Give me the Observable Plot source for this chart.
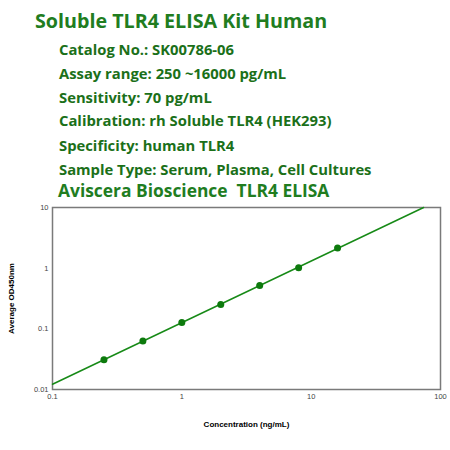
<!DOCTYPE html>
<html>
<head>
<meta charset="utf-8">
<script src="https://cdn.jsdelivr.net/npm/d3@7"></script>
<script src="https://cdn.jsdelivr.net/npm/@observablehq/plot@0.6"></script>
<style>
  html, body { margin: 0; padding: 0; background: #fff; }
  #page { position: relative; width: 450px; height: 450px; overflow: hidden; }
  #hdr { position: absolute; left: 0; top: 0; z-index: 2; }
  .hdr { position: absolute; font-family: "Open Sans", sans-serif; font-weight: 700; color: #1b7019; white-space: pre; line-height: 1; }
  #chart { position: absolute; left: 0; top: 195px; z-index: 1; }
  #chart g[aria-label="x-axis label"] text, #chart g[aria-label="y-axis label"] text { font-weight: 700; font-size: 8px; fill: #000; }
</style>
</head>
<body>
<div id="page">
  <div id="hdr"></div>
  <div id="chart"></div>
</div>
<script>
// Header texts
const title = "Soluble TLR4 ELISA Kit Human";
const infoLines = [
  "Catalog No.: SK00786-06",
  "Assay range: 250 ~16000 pg/mL",
  "Sensitivity: 70 pg/mL",
  "Calibration: rh Soluble TLR4 (HEK293)",
  "Specificity: human TLR4",
  "Sample Type: Serum, Plasma, Cell Cultures"
];
const footer = "Aviscera Bioscience  TLR4 ELISA";

// Standard curve points
const concentrations = [0.25, 0.5, 1, 2, 4, 8, 16];
const odValues = [0.031, 0.063, 0.127, 0.251, 0.52, 1.02, 2.15];

// Fitted line endpoints
const fitX = [0.1, 74];
const fitY = [0.0122, 10];

// Ticks
const xTicks = [0.1, 1, 10, 100];
const yTicks = [0.01, 0.1, 1, 10];

// Build header
const hdr = document.getElementById("hdr");
function addLine(text, left, baseline, size, color) {
  const d = document.createElement("div");
  d.className = "hdr";
  d.textContent = text;
  d.style.left = left + "px";
  d.style.fontSize = size + "px";
  d.style.top = (baseline - size * 0.82) + "px";
  if (color) d.style.color = color;
  hdr.appendChild(d);
}
addLine(title, 35, 27, 19.7, "#217d1f");
const baselines = [54, 78, 102, 125.5, 150, 174];
infoLines.forEach((t, i) => addLine(t, 59, baselines[i], 14.8));
addLine(footer, 58, 196, 17.4, "#217d1f");

const points = concentrations.map((c, i) => ({c, od: odValues[i]}));
const fit = fitX.map((x, i) => ({x, y: fitY[i]}));

const plot = Plot.plot({
  width: 450,
  height: 245,
  marginTop: 12,
  marginBottom: 51,
  marginLeft: 52,
  marginRight: 10,
  style: { fontFamily: "Liberation Sans, Arial, sans-serif", fontSize: "7.5px", color: "#444", background: "transparent" },
  x: { type: "log", domain: [0.1, 100], ticks: xTicks, tickFormat: d => String(d), tickSize: 0, tickPadding: 4,
       label: "Concentration (ng/mL)", labelAnchor: "center", labelArrow: "none", labelOffset: 37 },
  y: { type: "log", domain: [0.01, 10], ticks: yTicks, tickFormat: d => String(d), tickSize: 0, tickPadding: 4,
       label: "Average OD450nm", labelAnchor: "center", labelArrow: "none", labelOffset: 44 },
  marks: [
    Plot.frame({ stroke: "#7a7a7a", strokeWidth: 1.5 }),
    Plot.line(fit, { x: "x", y: "y", stroke: "#178a17", strokeWidth: 1.5 }),
    Plot.dot(points, { x: "c", y: "od", r: 3.5, fill: "#0d7a0d", stroke: "none" })
  ]
});
document.getElementById("chart").appendChild(plot);
</script>
</body>
</html>
